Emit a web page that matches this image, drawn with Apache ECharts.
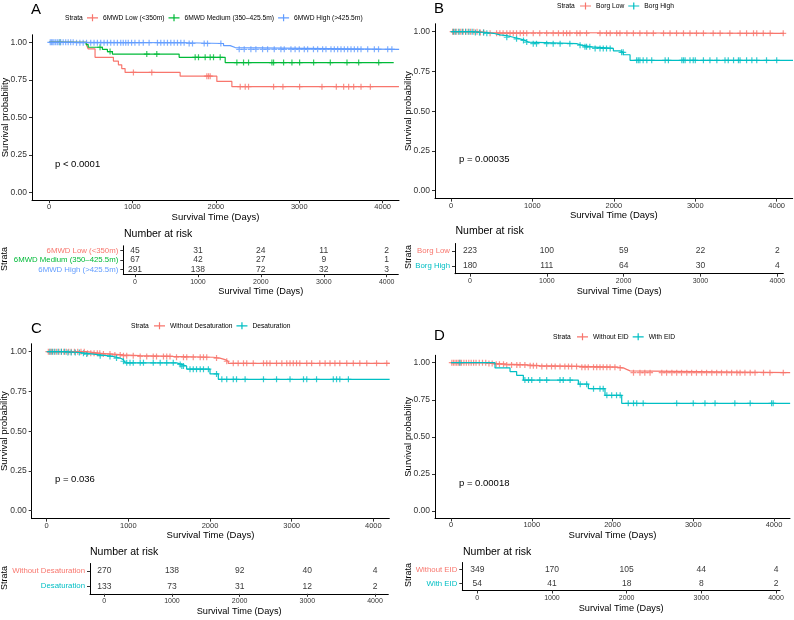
<!DOCTYPE html>
<html>
<head>
<meta charset="utf-8">
<script src="https://cdn.jsdelivr.net/npm/echarts@6.0.0/dist/echarts.min.js"></script>
<style>
html, body { margin: 0; padding: 0; background: #fff; }
#chart { width: 794px; height: 620px; }
</style>
</head>
<body>
<div id="chart"></div>
<script>
// ---------- data ----------
const xTicks = [0, 1000, 2000, 3000, 4000];
const yTicks = [0, 0.25, 0.5, 0.75, 1];
const riskTimes = [0, 1000, 2000, 3000, 4000];

const RED = '#F8766D', GREEN = '#00BA38', BLUE = '#619CFF', TEAL = '#00BFC4';

// A: 6MWD
const aNames = ['6MWD Low (<350m)', '6MWD Medium (350–425.5m)', '6MWD High (>425.5m)'];
const aLowEvents = [[0, 1], [452, 0.978], [470, 0.956], [552, 0.90], [772, 0.875], [832, 0.85], [872, 0.825], [912, 0.80], [1572, 0.775], [2012, 0.74], [2192, 0.705], [4195, 0.705]];
const aMedEvents = [[0, 1], [445, 0.985], [470, 0.967], [640, 0.953], [700, 0.938], [760, 0.922], [1560, 0.90], [2112, 0.865], [4132, 0.865]];
const aHighEvents = [[0, 1], [300, 0.997], [1670, 0.992], [2092, 0.978], [2172, 0.965], [2232, 0.953], [4197, 0.953]];
const aLowCens = [1012, 1232, 1892, 1912, 1932, 2292, 2352, 2392, 2692, 2804, 3004, 3272, 3444, 3532, 3592, 3652, 3740, 3852];
const aMedCens = [132, 612, 732, 1172, 1292, 1752, 1792, 1872, 1932, 1972, 2052, 2252, 2332, 2392, 2672, 2692, 2812, 2912, 3004, 3172, 3372, 3572, 3712, 3952];
const aHighCens = [15, 30, 45, 60, 80, 100, 120, 140, 170, 200, 230, 260, 290, 330, 370, 410, 450, 500, 540, 580, 620, 660, 700, 740, 780, 820, 860, 890, 920, 950, 990, 1030, 1080, 1130, 1200, 1300, 1340, 1380, 1420, 1460, 1500, 1540, 1580, 1620, 1680, 1720, 1860, 1900, 2060, 2280, 2340, 2420, 2480, 2560, 2620, 2700, 2780, 2820, 2900, 2950, 3000, 3060, 3100, 3170, 3220, 3280, 3320, 3380, 3420, 3460, 3500, 3540, 3580, 3620, 3660, 3700, 3740, 3820, 3900, 3950, 4060, 4110];
const aRisk = [[45, 31, 24, 11, 2], [67, 42, 27, 9, 1], [291, 138, 72, 32, 3]];

// B: Borg
const bNames = ['Borg Low', 'Borg High'];
const bLowEvents = [[0, 1], [340, 0.995], [470, 0.99], [4090, 0.99]];
const bHighEvents = [[0, 1], [274, 0.995], [438, 0.99], [520, 0.98], [602, 0.975], [684, 0.965], [766, 0.955], [847, 0.945], [909, 0.935], [950, 0.925], [1543, 0.915], [1605, 0.905], [1728, 0.895], [1994, 0.88], [2076, 0.87], [2117, 0.855], [2199, 0.82], [4200, 0.82]];
const bLowCens = [20, 40, 60, 90, 120, 150, 180, 210, 240, 280, 320, 360, 400, 480, 560, 600, 640, 685, 725, 765, 805, 850, 890, 930, 1010, 1090, 1175, 1255, 1320, 1380, 1420, 1460, 1545, 1585, 1665, 1830, 1910, 1955, 2035, 2075, 2160, 2240, 2320, 2405, 2485, 2610, 2690, 2770, 2855, 2935, 3015, 3100, 3220, 3305, 3425, 3550, 3630, 3715, 3755, 3835, 3920, 4080];
const bHighCens = [30, 60, 100, 140, 180, 220, 260, 300, 350, 400, 440, 685, 805, 890, 930, 1010, 1050, 1175, 1255, 1340, 1460, 1585, 1645, 1665, 1705, 1770, 1830, 1870, 1910, 1955, 2095, 2115, 2280, 2300, 2320, 2360, 2405, 2465, 2630, 2670, 2835, 2855, 2875, 2935, 2975, 3000, 3100, 3180, 3265, 3365, 3405, 3470, 3530, 3550, 3630, 3695, 3755, 3875, 4000];
const bRisk = [[223, 100, 59, 22, 2], [180, 111, 64, 30, 4]];

// C: desaturation
const cNames = ['Without Desaturation', 'Desaturation'];
const cWithoutEvents = [[0, 1], [490, 0.99], [653, 0.985], [816, 0.98], [939, 0.975], [1143, 0.97], [1551, 0.965], [2041, 0.96], [2122, 0.95], [2184, 0.94], [2224, 0.927], [4200, 0.927]];
const cDesatEvents = [[0, 1], [245, 0.995], [408, 0.99], [490, 0.985], [571, 0.98], [653, 0.975], [735, 0.97], [816, 0.96], [898, 0.95], [939, 0.94], [960, 0.93], [1592, 0.92], [1653, 0.91], [1714, 0.89], [2000, 0.86], [2102, 0.826], [4200, 0.826]];
const cWithoutCens = [20, 40, 60, 90, 120, 150, 180, 210, 240, 270, 300, 340, 380, 420, 460, 500, 540, 580, 620, 650, 695, 775, 835, 900, 940, 980, 1060, 1145, 1225, 1305, 1345, 1430, 1470, 1510, 1590, 1675, 1715, 1795, 1880, 1920, 1960, 2080, 2205, 2285, 2345, 2410, 2450, 2530, 2655, 2695, 2735, 2815, 2880, 2940, 2980, 3020, 3060, 3100, 3185, 3245, 3345, 3410, 3470, 3530, 3590, 3675, 3755, 3835, 3920, 4040, 4165];
const cDesatCens = [40, 70, 100, 140, 180, 220, 260, 300, 350, 400, 450, 490, 655, 775, 855, 940, 980, 1020, 1060, 1145, 1185, 1305, 1390, 1470, 1550, 1635, 1655, 1675, 1755, 1795, 1835, 1880, 1920, 1980, 2080, 2145, 2205, 2285, 2325, 2430, 2655, 2815, 2980, 3145, 3185, 3305, 3510, 3550, 3590, 3695];
const cRisk = [[270, 138, 92, 40, 4], [133, 73, 31, 12, 2]];

// D: EID
const dNames = ['Without EID', 'With EID'];
const dWithoutEvents = [[0, 1], [442, 0.995], [524, 0.99], [689, 0.985], [937, 0.98], [1102, 0.975], [1598, 0.97], [2052, 0.965], [2134, 0.955], [2175, 0.945], [2217, 0.933], [4200, 0.933]];
const dEidEvents = [[0, 1], [545, 0.965], [731, 0.94], [813, 0.915], [896, 0.883], [1577, 0.855], [1701, 0.825], [1907, 0.78], [2114, 0.726], [4200, 0.726]];
const dWithoutCens = [10, 30, 50, 70, 90, 110, 130, 160, 190, 220, 250, 280, 310, 350, 390, 430, 470, 510, 560, 600, 650, 690, 750, 815, 855, 915, 980, 1020, 1060, 1125, 1185, 1245, 1290, 1350, 1410, 1455, 1495, 1555, 1620, 1660, 1700, 1765, 1805, 1845, 1885, 1930, 1970, 2030, 2095, 2260, 2340, 2400, 2465, 2610, 2670, 2735, 2795, 2855, 2920, 2980, 3040, 3105, 3165, 3230, 3290, 3350, 3415, 3475, 3540, 3580, 3640, 3705, 3765, 3870, 3950, 4115];
const dEidCens = [110, 915, 960, 1000, 1100, 1185, 1350, 1390, 1475, 1600, 1680, 1765, 1845, 1885, 1930, 1990, 2050, 2095, 2195, 2260, 2300, 2380, 2795, 3000, 3145, 3270, 3515, 3705, 3970, 3990];
const dRisk = [[349, 170, 105, 44, 4], [54, 41, 18, 8, 2]];

// ---------- layout (pixel frames of each panel) ----------
const panels = [
  { letter: 'A', letterPos: [31, 10], names: aNames, colors: [RED, GREEN, BLUE],
    events: [aLowEvents, aMedEvents, aHighEvents], censors: [aLowCens, aMedCens, aHighCens], risk: aRisk,
    pval: 'p < 0.0001', pvalPos: [55, 164],
    plot: { left: 32, right: 399, x0: 49, x4000: 382.7, y1: 42.3, y0: 192.7 },
    legend: { strata: [65, 18.3], left: 87 },
    table: { left: 123.3, right: 398.3, x0: 135, x4000: 386.7, top: 245.8, bottom: 274.2 },
    riskTitle: [124, 234], strataPos: [5, 259] },
  { letter: 'B', letterPos: [434, 9], names: bNames, colors: [RED, TEAL],
    events: [bLowEvents, bHighEvents], censors: [bLowCens, bHighCens], risk: bRisk,
    pval: 'p = 0.00035', pvalPos: [459, 159.3],
    plot: { left: 435, right: 792.7, x0: 451, x4000: 776.7, y1: 31.7, y0: 190.7 },
    legend: { strata: [557, 6.5], left: 580 },
    table: { left: 455, right: 783.3, x0: 470, x4000: 777.3, top: 243.5, bottom: 273.7 },
    riskTitle: [455.5, 231.5], strataPos: [409, 257] },
  { letter: 'C', letterPos: [31, 329], names: cNames, colors: [RED, TEAL],
    events: [cWithoutEvents, cDesatEvents], censors: [cWithoutCens, cDesatCens], risk: cRisk,
    pval: 'p = 0.036', pvalPos: [55, 479.3],
    plot: { left: 31.7, right: 389.3, x0: 46.7, x4000: 373.3, y1: 351.7, y0: 510.7 },
    legend: { strata: [131, 326.3], left: 154 },
    table: { left: 90, right: 388.3, x0: 104.3, x4000: 375, top: 563.5, bottom: 593.8 },
    riskTitle: [90, 551.7], strataPos: [5, 578] },
  { letter: 'D', letterPos: [434, 335.5], names: dNames, colors: [RED, TEAL],
    events: [dWithoutEvents, dEidEvents], censors: [dWithoutCens, dEidCens], risk: dRisk,
    pval: 'p = 0.00018', pvalPos: [459, 483.3],
    plot: { left: 435, right: 790, x0: 451, x4000: 774, y1: 362.7, y0: 511 },
    legend: { strata: [553, 337.3], left: 577 },
    table: { left: 462.3, right: 780, x0: 477.3, x4000: 776, top: 562.5, bottom: 590.5 },
    riskTitle: [463, 552], strataPos: [409, 575] }
];

const FONT = 'Liberation Sans, Arial, Helvetica, sans-serif';
const PLUS = 'path://M-0.2,-1H0.2V-0.2H1V0.2H0.2V1H-0.2V0.2H-1V-0.2H-0.2Z';
const LEGEND_ICON = 'path://M0,2.9H11V4.1H0ZM4.9,0H6.1V7H4.9Z';

function survAt(events, t) {
  let s = 1;
  for (const e of events) { if (e[0] <= t) s = e[1]; }
  return s;
}
function xRange(g) {
  const k = (g.x4000 - g.x0) / 4000;
  return { min: -(g.x0 - g.left) / k, max: (g.right - g.x0) / k };
}
function plain(v) { return String(Math.round(v)); }

const grid = [], xAxis = [], yAxis = [], series = [], legend = [], graphic = [];

panels.forEach(function (p) {
  // ---- survival plot ----
  const g = p.plot;
  const span = g.y0 - g.y1;
  const gi = grid.length;
  grid.push({ left: g.left, width: g.right - g.left, top: g.y1 - 0.05 * span, height: 1.1 * span, outerBoundsMode: 'none' });
  const xr = xRange(g);
  xAxis.push({
    type: 'value', gridIndex: gi, min: xr.min, max: xr.max,
    axisLine: { show: true, onZero: false, lineStyle: { color: '#000', width: 1 } },
    axisTick: { show: true, length: 3, customValues: xTicks, lineStyle: { color: '#333' } },
    axisLabel: { customValues: xTicks, fontSize: 7.5, color: '#333', margin: 3, fontFamily: FONT, formatter: plain },
    splitLine: { show: false },
    name: 'Survival Time (Days)', nameLocation: 'middle', nameGap: 12, nameMoveOverlap: false,
    nameTextStyle: { fontSize: 9.5, color: '#000', fontFamily: FONT }
  });
  yAxis.push({
    type: 'value', gridIndex: gi, min: -0.05, max: 1.05,
    axisLine: { show: true, onZero: false, lineStyle: { color: '#000', width: 1 } },
    axisTick: { show: true, length: 3, customValues: yTicks, lineStyle: { color: '#333' } },
    axisLabel: { customValues: yTicks, fontSize: 8.5, color: '#333', margin: 5, fontFamily: FONT,
      formatter: function (v) { return v.toFixed(2); } },
    splitLine: { show: false },
    name: 'Survival probability', nameLocation: 'middle', nameGap: 22, nameRotate: 90, nameMoveOverlap: false,
    nameTextStyle: { fontSize: 9.5, color: '#000', fontFamily: FONT }
  });
  p.names.forEach(function (name, i) {
    series.push({
      type: 'line', name: name, xAxisIndex: gi, yAxisIndex: gi, step: 'end',
      data: p.events[i], showSymbol: false, color: p.colors[i],
      lineStyle: { width: 1.2, color: p.colors[i] }, silent: true, animation: false
    });
  });
  p.names.forEach(function (name, i) {
    series.push({
      type: 'scatter', name: name, xAxisIndex: gi, yAxisIndex: gi,
      data: p.censors[i].map(function (t) { return [t, survAt(p.events[i], t)]; }),
      symbol: PLUS, symbolSize: 6, itemStyle: { color: p.colors[i] }, color: p.colors[i],
      silent: true, animation: false
    });
  });
  legend.push({
    left: p.legend.left, top: p.legend.strata[1] - 4, padding: 0, itemGap: 4,
    itemWidth: 11, itemHeight: 7, selectedMode: false,
    data: p.names.map(function (n) { return { name: n, icon: LEGEND_ICON }; }),
    textStyle: { fontSize: 6.7, color: '#000', fontFamily: FONT }
  });
  graphic.push({ type: 'text', left: p.legend.strata[0], top: p.legend.strata[1] - 4,
    style: { text: 'Strata', fontSize: 6.7, fill: '#000', fontFamily: FONT } });
  graphic.push({ type: 'text', x: p.letterPos[0], y: p.letterPos[1],
    style: { text: p.letter, fontSize: 15, fill: '#000', fontFamily: FONT, verticalAlign: 'middle' } });
  graphic.push({ type: 'text', x: p.pvalPos[0], y: p.pvalPos[1],
    style: { text: p.pval, fontSize: 9.5, fill: '#000', fontFamily: FONT, verticalAlign: 'middle' } });

  // ---- risk table ----
  const t = p.table;
  const ti = grid.length;
  grid.push({ left: t.left, width: t.right - t.left, top: t.top, height: t.bottom - t.top, outerBoundsMode: 'none' });
  const tr = xRange(t);
  xAxis.push({
    type: 'value', gridIndex: ti, min: tr.min, max: tr.max,
    axisLine: { show: true, onZero: false, lineStyle: { color: '#000', width: 1 } },
    axisTick: { show: true, length: 3, customValues: riskTimes, lineStyle: { color: '#333' } },
    axisLabel: { customValues: riskTimes, fontSize: 7, color: '#333', margin: 4, fontFamily: FONT, formatter: plain },
    splitLine: { show: false },
    name: 'Survival Time (Days)', nameLocation: 'middle', nameGap: 13, nameMoveOverlap: false,
    nameTextStyle: { fontSize: 9.2, color: '#000', fontFamily: FONT }
  });
  yAxis.push({
    type: 'category', gridIndex: ti, inverse: true, data: p.names,
    axisLine: { show: true, onZero: false, lineStyle: { color: '#000', width: 1 } },
    axisTick: { show: true, length: 3, alignWithLabel: true, interval: 0, lineStyle: { color: '#333' } },
    axisLabel: { fontSize: 7.8, margin: 5, fontFamily: FONT, interval: 0,
      color: function (v) { return p.colors[p.names.indexOf(v)]; } },
    splitLine: { show: false }
  });
  p.risk.forEach(function (row, i) {
    series.push({
      type: 'scatter', xAxisIndex: ti, yAxisIndex: ti, symbolSize: 1,
      itemStyle: { color: 'rgba(0,0,0,0)' },
      data: row.map(function (n, j) { return [riskTimes[j], i, n]; }),
      label: { show: true, position: 'inside', formatter: function (q) { return String(q.value[2]); },
        fontSize: 8.5, color: '#000', fontFamily: FONT },
      silent: true, animation: false
    });
  });
  graphic.push({ type: 'text', x: p.riskTitle[0], y: p.riskTitle[1],
    style: { text: 'Number at risk', fontSize: 10.5, fill: '#000', fontFamily: FONT, verticalAlign: 'middle' } });
  graphic.push({ type: 'text', x: p.strataPos[0], y: p.strataPos[1], rotation: Math.PI / 2,
    style: { text: 'Strata', fontSize: 9, fill: '#000', fontFamily: FONT, align: 'center', verticalAlign: 'middle' } });
});

const chart = echarts.init(document.getElementById('chart'), null, { renderer: 'canvas' });
chart.setOption({
  backgroundColor: '#fff',
  animation: false,
  textStyle: { fontFamily: FONT },
  grid: grid, xAxis: xAxis, yAxis: yAxis, series: series, legend: legend, graphic: graphic
});
</script>
</body>
</html>
